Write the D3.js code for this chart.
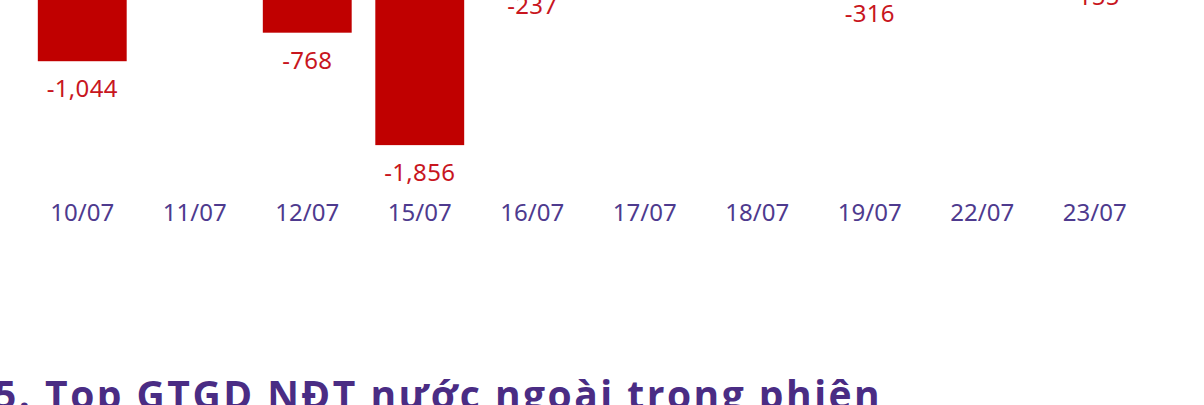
<!DOCTYPE html>
<html>
<head>
<meta charset="utf-8">
<script src="https://cdn.jsdelivr.net/npm/d3@7"></script>
<style>
  html, body { margin: 0; padding: 0; background: #fff; overflow: hidden; }
</style>
</head>
<body>
<div id="chart"></div>
<script>
// net foreign trading value by session (only the negative ones are in view)
const days = ["10/07", "11/07", "12/07", "15/07", "16/07", "17/07", "18/07", "19/07", "22/07", "23/07"]
const netValues = [-1044, 420, -768, -1856, -237, 310, 260, -316, 380, -155]
const title = "5. Top GTGD NĐT nước ngoài trong phiên"

const width = 1204, height = 405
const margin = {top: -150, right: 53, bottom: 0, left: 26}
const plotBottom = 160

const svg = d3.select('#chart').append('svg')
    .attr('width', width)
    .attr('height', height)
    .style('display', 'block')

const x = d3.scaleBand()
    .domain(days)
    .range([margin.left, width - margin.right])
    .paddingInner(0.21)
    .paddingOuter(0.105)

const y = d3.scaleLinear()
    .domain([-2000, 1000])
    .range([plotBottom, margin.top])

// plain hyphen for the minus sign, like the source
const fmt = d3.formatLocale({decimal: '.', thousands: ',', grouping: [3], currency: ['', ''], minus: '-'}).format(',')

svg.append('g')
    .selectAll('rect')
    .data(days)
    .join('rect')
    .attr('x', d => x(d))
    .attr('width', x.bandwidth())
    .attr('y', (d, i) => Math.min(y(0), y(netValues[i])))
    .attr('height', (d, i) => Math.abs(y(netValues[i]) - y(0)))
    .style('fill', (d, i) => netValues[i] < 0 ? '#C00000' : '#00B050')

// value labels, below negative bars and above positive ones
svg.append('g')
    .selectAll('text')
    .data(days)
    .join('text')
    .attr('x', d => x(d) + x.bandwidth() / 2)
    .attr('y', (d, i) => netValues[i] < 0 ? y(netValues[i]) + 36 : y(netValues[i]) - 12)
    .attr('text-anchor', 'middle')
    .style('font-family', '"Noto Sans", sans-serif')
    .style('font-size', '24px')
    .style('letter-spacing', '0.3px')
    .style('fill', (d, i) => netValues[i] < 0 ? '#C8161E' : '#00A04A')
    .text((d, i) => fmt(netValues[i]))

// date axis, no line and no ticks
const xAxis = svg.append('g')
    .attr('transform', `translate(0, ${plotBottom})`)
    .call(d3.axisBottom(x).tickSize(0).tickPadding(0))
xAxis.select('.domain').remove()
xAxis.selectAll('text')
    .attr('dy', null)
    .attr('y', 61)
    .style('font-family', '"Noto Sans", sans-serif')
    .style('font-size', '24px')
    .style('fill', '#4E3A8E')

svg.append('text')
    .attr('x', -6)
    .attr('y', 409)
    .style('font-family', '"Open Sans", sans-serif')
    .style('font-weight', 700)
    .style('font-size', '39px')
    .style('letter-spacing', '2.5px')
    .style('fill', '#4A2C84')
    .text(title)
</script>
</body>
</html>
